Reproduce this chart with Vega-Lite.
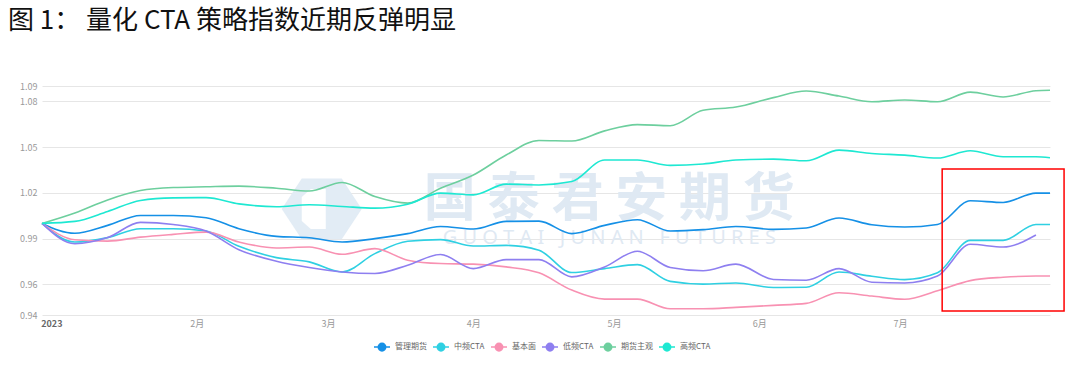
{
  "$schema": "https://vega.github.io/schema/vega-lite/v6.json",
  "width": 1008,
  "height": 229,
  "autosize": {"type": "none"},
  "padding": {"left": 42, "top": 86, "right": 30, "bottom": 64},
  "background": "white",
  "title": {"text": "图 1：  量化 CTA 策略指数近期反弹明显", "anchor": "start", "frame": "group", "dx": -34, "offset": 48, "fontSize": 26, "font": "Noto Sans CJK SC", "fontWeight": "normal", "color": "#111111"},
  "config": {
    "view": {"stroke": null},
    "font": "Noto Sans CJK SC",
    "axisX": {"grid": false, "domain": false, "ticks": false, "labelPadding": 4, "labelFontSize": 9, "labelColor": "#999999"},
    "axisY": {"domain": false, "ticks": false, "labelPadding": 5, "labelFontSize": 9, "labelColor": "#999999", "gridColor": "#e6e6e6", "gridWidth": 1, "labelOverlap": false}
  },
  "datasets": {
    "idx": [
      {"d": "2022/12/30", "管理期货": 1.0, "中频CTA": 1.0, "基本面": 1.0, "低频CTA": 1.0, "期货主观": 1.0, "高频CTA": 1.0},
      {"d": "2023/01/06", "管理期货": 0.9935, "中频CTA": 0.9878, "基本面": 0.9893, "低频CTA": 0.9867, "期货主观": 1.0068, "高频CTA": 1.0013},
      {"d": "2023/01/13", "管理期货": 0.9987, "中频CTA": 0.9907, "基本面": 0.9884, "低频CTA": 0.9907, "期货主观": 1.0154, "高频CTA": 1.0078},
      {"d": "2023/01/20", "管理期货": 1.0052, "中频CTA": 0.9965, "基本面": 0.991, "低频CTA": 1.0007, "期货主观": 1.0215, "高频CTA": 1.015},
      {"d": "2023/01/27", "管理期货": 1.0052, "中频CTA": 0.9965, "基本面": 0.9928, "低频CTA": 0.9993, "期货主观": 1.0235, "高频CTA": 1.0167},
      {"d": "2023/02/03", "管理期货": 1.0037, "中频CTA": 0.995, "基本面": 0.9943, "低频CTA": 0.995, "期货主观": 1.024, "高频CTA": 1.0169},
      {"d": "2023/02/10", "管理期货": 0.9965, "中频CTA": 0.985, "基本面": 0.9878, "低频CTA": 0.9828, "期货主观": 1.0244, "高频CTA": 1.0128},
      {"d": "2023/02/18", "管理期货": 0.9915, "中频CTA": 0.9776, "基本面": 0.9839, "低频CTA": 0.9752, "期货主观": 1.023, "高频CTA": 1.0109},
      {"d": "2023/02/25", "管理期货": 0.9906, "中频CTA": 0.9748, "基本面": 0.9845, "低频CTA": 0.9711, "期货主观": 1.0212, "高频CTA": 1.0122},
      {"d": "2023/03/04", "管理期货": 0.9878, "中频CTA": 0.9682, "基本面": 0.9798, "低频CTA": 0.9682, "期货主观": 1.0268, "高频CTA": 1.0111},
      {"d": "2023/03/11", "管理期货": 0.99, "中频CTA": 0.9802, "基本面": 0.9835, "低频CTA": 0.9672, "期货主观": 1.0176, "高频CTA": 1.01},
      {"d": "2023/03/18", "管理期货": 0.9933, "中频CTA": 0.9883, "基本面": 0.9759, "低频CTA": 0.9726, "期货主观": 1.0133, "高频CTA": 1.0126},
      {"d": "2023/03/25", "管理期货": 0.998, "中频CTA": 0.9894, "基本面": 0.9737, "低频CTA": 0.9796, "期货主观": 1.023, "高频CTA": 1.0198},
      {"d": "2023/04/01", "管理期货": 0.9963, "中频CTA": 0.9852, "基本面": 0.9733, "低频CTA": 0.9704, "期货主观": 1.0317, "高频CTA": 1.0187},
      {"d": "2023/04/08", "管理期货": 1.0013, "中频CTA": 0.9856, "基本面": 0.9715, "低频CTA": 0.9763, "期货主观": 1.0448, "高频CTA": 1.0257},
      {"d": "2023/04/15", "管理期货": 1.0015, "中频CTA": 0.9824, "基本面": 0.9676, "低频CTA": 0.9763, "期货主观": 1.0543, "高频CTA": 1.0252},
      {"d": "2023/04/22", "管理期货": 0.9933, "中频CTA": 0.9678, "基本面": 0.9563, "低频CTA": 0.965, "期货主观": 1.054, "高频CTA": 1.0274},
      {"d": "2023/04/29", "管理期货": 0.9987, "中频CTA": 0.9704, "基本面": 0.9504, "低频CTA": 0.9715, "期货主观": 1.0606, "高频CTA": 1.0415},
      {"d": "2023/05/06", "管理期货": 1.0024, "中频CTA": 0.973, "基本面": 0.9504, "低频CTA": 0.9818, "期货主观": 1.0647, "高频CTA": 1.0415},
      {"d": "2023/05/13", "管理期货": 0.995, "中频CTA": 0.962, "基本面": 0.9441, "低频CTA": 0.9711, "期货主观": 1.064, "高频CTA": 1.038},
      {"d": "2023/05/20", "管理期货": 0.9959, "中频CTA": 0.9602, "基本面": 0.9441, "低频CTA": 0.969, "期货主观": 1.0741, "高频CTA": 1.0389},
      {"d": "2023/05/27", "管理期货": 0.998, "中频CTA": 0.961, "基本面": 0.945, "低频CTA": 0.9733, "期货主观": 1.0762, "高频CTA": 1.0415},
      {"d": "2023/06/04", "管理期货": 0.9961, "中频CTA": 0.958, "基本面": 0.9463, "低频CTA": 0.9633, "期货主观": 1.0824, "高频CTA": 1.0421},
      {"d": "2023/06/11", "管理期货": 0.997, "中频CTA": 0.9582, "基本面": 0.9476, "低频CTA": 0.9628, "期货主观": 1.0867, "高频CTA": 1.041},
      {"d": "2023/06/18", "管理期货": 1.0035, "中频CTA": 0.9682, "基本面": 0.9546, "低频CTA": 0.9704, "期货主观": 1.0834, "高频CTA": 1.048},
      {"d": "2023/06/25", "管理期货": 0.9991, "中频CTA": 0.9654, "基本面": 0.9524, "低频CTA": 0.9615, "期货主观": 1.0797, "高频CTA": 1.0458},
      {"d": "2023/07/02", "管理期货": 0.9976, "中频CTA": 0.9632, "基本面": 0.9503, "低频CTA": 0.961, "期货主观": 1.0808, "高频CTA": 1.0447},
      {"d": "2023/07/09", "管理期货": 0.9993, "中频CTA": 0.9676, "基本面": 0.9559, "低频CTA": 0.9655, "期货主观": 1.0797, "高频CTA": 1.0428},
      {"d": "2023/07/16", "管理期货": 1.0148, "中频CTA": 0.9889, "基本面": 0.9625, "低频CTA": 0.9863, "期货主观": 1.086, "高频CTA": 1.0476},
      {"d": "2023/07/23", "管理期货": 1.0137, "中频CTA": 0.9889, "基本面": 0.9647, "低频CTA": 0.9845, "期货主观": 1.0828, "高频CTA": 1.0437},
      {"d": "2023/07/30", "管理期货": 1.0198, "中频CTA": 0.9993, "基本面": 0.9655, "低频CTA": 0.9924, "期货主观": 1.0869, "高频CTA": 1.0437},
      {"d": "2023/08/02", "管理期货": 1.0198, "中频CTA": 0.9993, "基本面": 0.9655, "低频CTA": null, "期货主观": 1.0872, "高频CTA": 1.043}
    ],
    "wm": [
      {"d": "2023/04/30", "v": 1.0153, "t": "国 泰 君 安 期 货"}
    ],
    "wm2": [
      {"d": "2023/04/30", "v": 0.9905, "t": "G U O T A I \u00a0 J U N A N \u00a0 F U T U R E S"}
    ],
    "logo": [
      {"d": "2023/02/27 16:00", "v": 1.0095}
    ],
    "box": [
      {"x1": "2023/07/10", "x2": "2023/08/05", "y1": 1.0356, "y2": 0.9426}
    ]
  },
  "layer": [
    {
      "data": {"name": "logo"},
      "mark": {"type": "point", "filled": true, "shape": "M-1,0L-0.5,-0.76L0.5,-0.76L1,0L0.5,0.76L-0.5,0.76Z", "size": 6400, "color": "#e2ecf5", "opacity": 1},
      "encoding": {
        "x": {"field": "d", "type": "temporal", "title": null, "scale": {"domain": [{"year": 2022, "month": 12, "date": 30}, {"year": 2023, "month": 8, "date": 2}]}},
        "y": {"field": "v", "type": "quantitative", "title": null, "scale": {"domain": [0.94, 1.09], "nice": false, "zero": false}}
      }
    },
    {
      "data": {"name": "logo"},
      "mark": {"type": "point", "filled": true, "shape": "M-1,-0.6L-0.55,-1L0.2,-1L0.2,1L-0.55,1L-1,0.6Z", "size": 1600, "color": "#ffffff", "opacity": 1},
      "encoding": {
        "x": {"field": "d", "type": "temporal", "title": null},
        "y": {"field": "v", "type": "quantitative", "title": null}
      }
    },
    {
      "data": {"name": "wm"},
      "mark": {"type": "text", "fontSize": 52, "fontWeight": "bold", "font": "Noto Sans CJK SC", "color": "#dfe9f3", "baseline": "middle", "align": "center"},
      "encoding": {
        "x": {"field": "d", "type": "temporal", "title": null},
        "y": {"field": "v", "type": "quantitative", "title": null},
        "text": {"field": "t"}
      }
    },
    {
      "data": {"name": "wm2"},
      "mark": {"type": "text", "fontSize": 20, "font": "Noto Sans", "color": "#dfe9f3", "baseline": "middle", "align": "center"},
      "encoding": {
        "x": {"field": "d", "type": "temporal", "title": null},
        "y": {"field": "v", "type": "quantitative", "title": null},
        "text": {"field": "t"}
      }
    },
    {
      "data": {"name": "idx"},
      "transform": [{"fold": ["管理期货", "中频CTA", "基本面", "低频CTA", "期货主观", "高频CTA"], "as": ["series", "value"]}],
      "mark": {"type": "line", "interpolate": "monotone", "strokeWidth": 1.6},
      "encoding": {
        "x": {"field": "d", "type": "temporal", "title": null,
          "axis": {
            "values": [{"year": 2023, "month": 1, "date": 1}, {"year": 2023, "month": 2, "date": 1}, {"year": 2023, "month": 3, "date": 1}, {"year": 2023, "month": 4, "date": 1}, {"year": 2023, "month": 5, "date": 1}, {"year": 2023, "month": 6, "date": 1}, {"year": 2023, "month": 7, "date": 1}],
            "tickCount": 20,
            "labelExpr": "month(datum.value) == 0 ? '2023' : (month(datum.value) + 1) + '月'",
            "labelFontWeight": {"condition": {"test": "month(datum.value) == 0", "value": "bold"}, "value": "normal"},
            "labelColor": {"condition": {"test": "month(datum.value) == 0", "value": "#666666"}, "value": "#999999"}
          }
        },
        "y": {"field": "value", "type": "quantitative", "title": null,
          "axis": {"values": [0.94, 0.96, 0.99, 1.02, 1.05, 1.08, 1.09], "tickCount": 20, "format": ".2f", "labelOverlap": false}
        },
        "color": {"field": "series", "type": "nominal",
          "scale": {"domain": ["管理期货", "中频CTA", "基本面", "低频CTA", "期货主观", "高频CTA"], "range": ["#1590e6", "#2fd0e2", "#f891b2", "#8e7ff0", "#6dcf9e", "#1ee8d2"]},
          "legend": {"title": null, "orient": "none", "legendX": 331, "legendY": 252, "direction": "horizontal", "columns": 6,
            "symbolType": "M-1,0L1,0M-0.47,0A0.47,0.47,0,1,1,0.47,0A0.47,0.47,0,1,1,-0.47,0", "symbolSize": 256, "symbolStrokeWidth": 1.5,
            "labelFontSize": 8, "labelColor": "#666666", "labelOffset": 4, "columnPadding": 3,
            "encode": {"symbols": {"update": {"fill": {"scale": "color", "field": "value"}}}}}
        }
      }
    },
    {
      "data": {"name": "box"},
      "mark": {"type": "rect", "filled": false, "stroke": "#ff0000", "strokeWidth": 1.5, "clip": false},
      "encoding": {
        "x": {"field": "x1", "type": "temporal", "title": null},
        "x2": {"field": "x2"},
        "y": {"field": "y1", "type": "quantitative", "title": null},
        "y2": {"field": "y2"}
      }
    }
  ]
}
